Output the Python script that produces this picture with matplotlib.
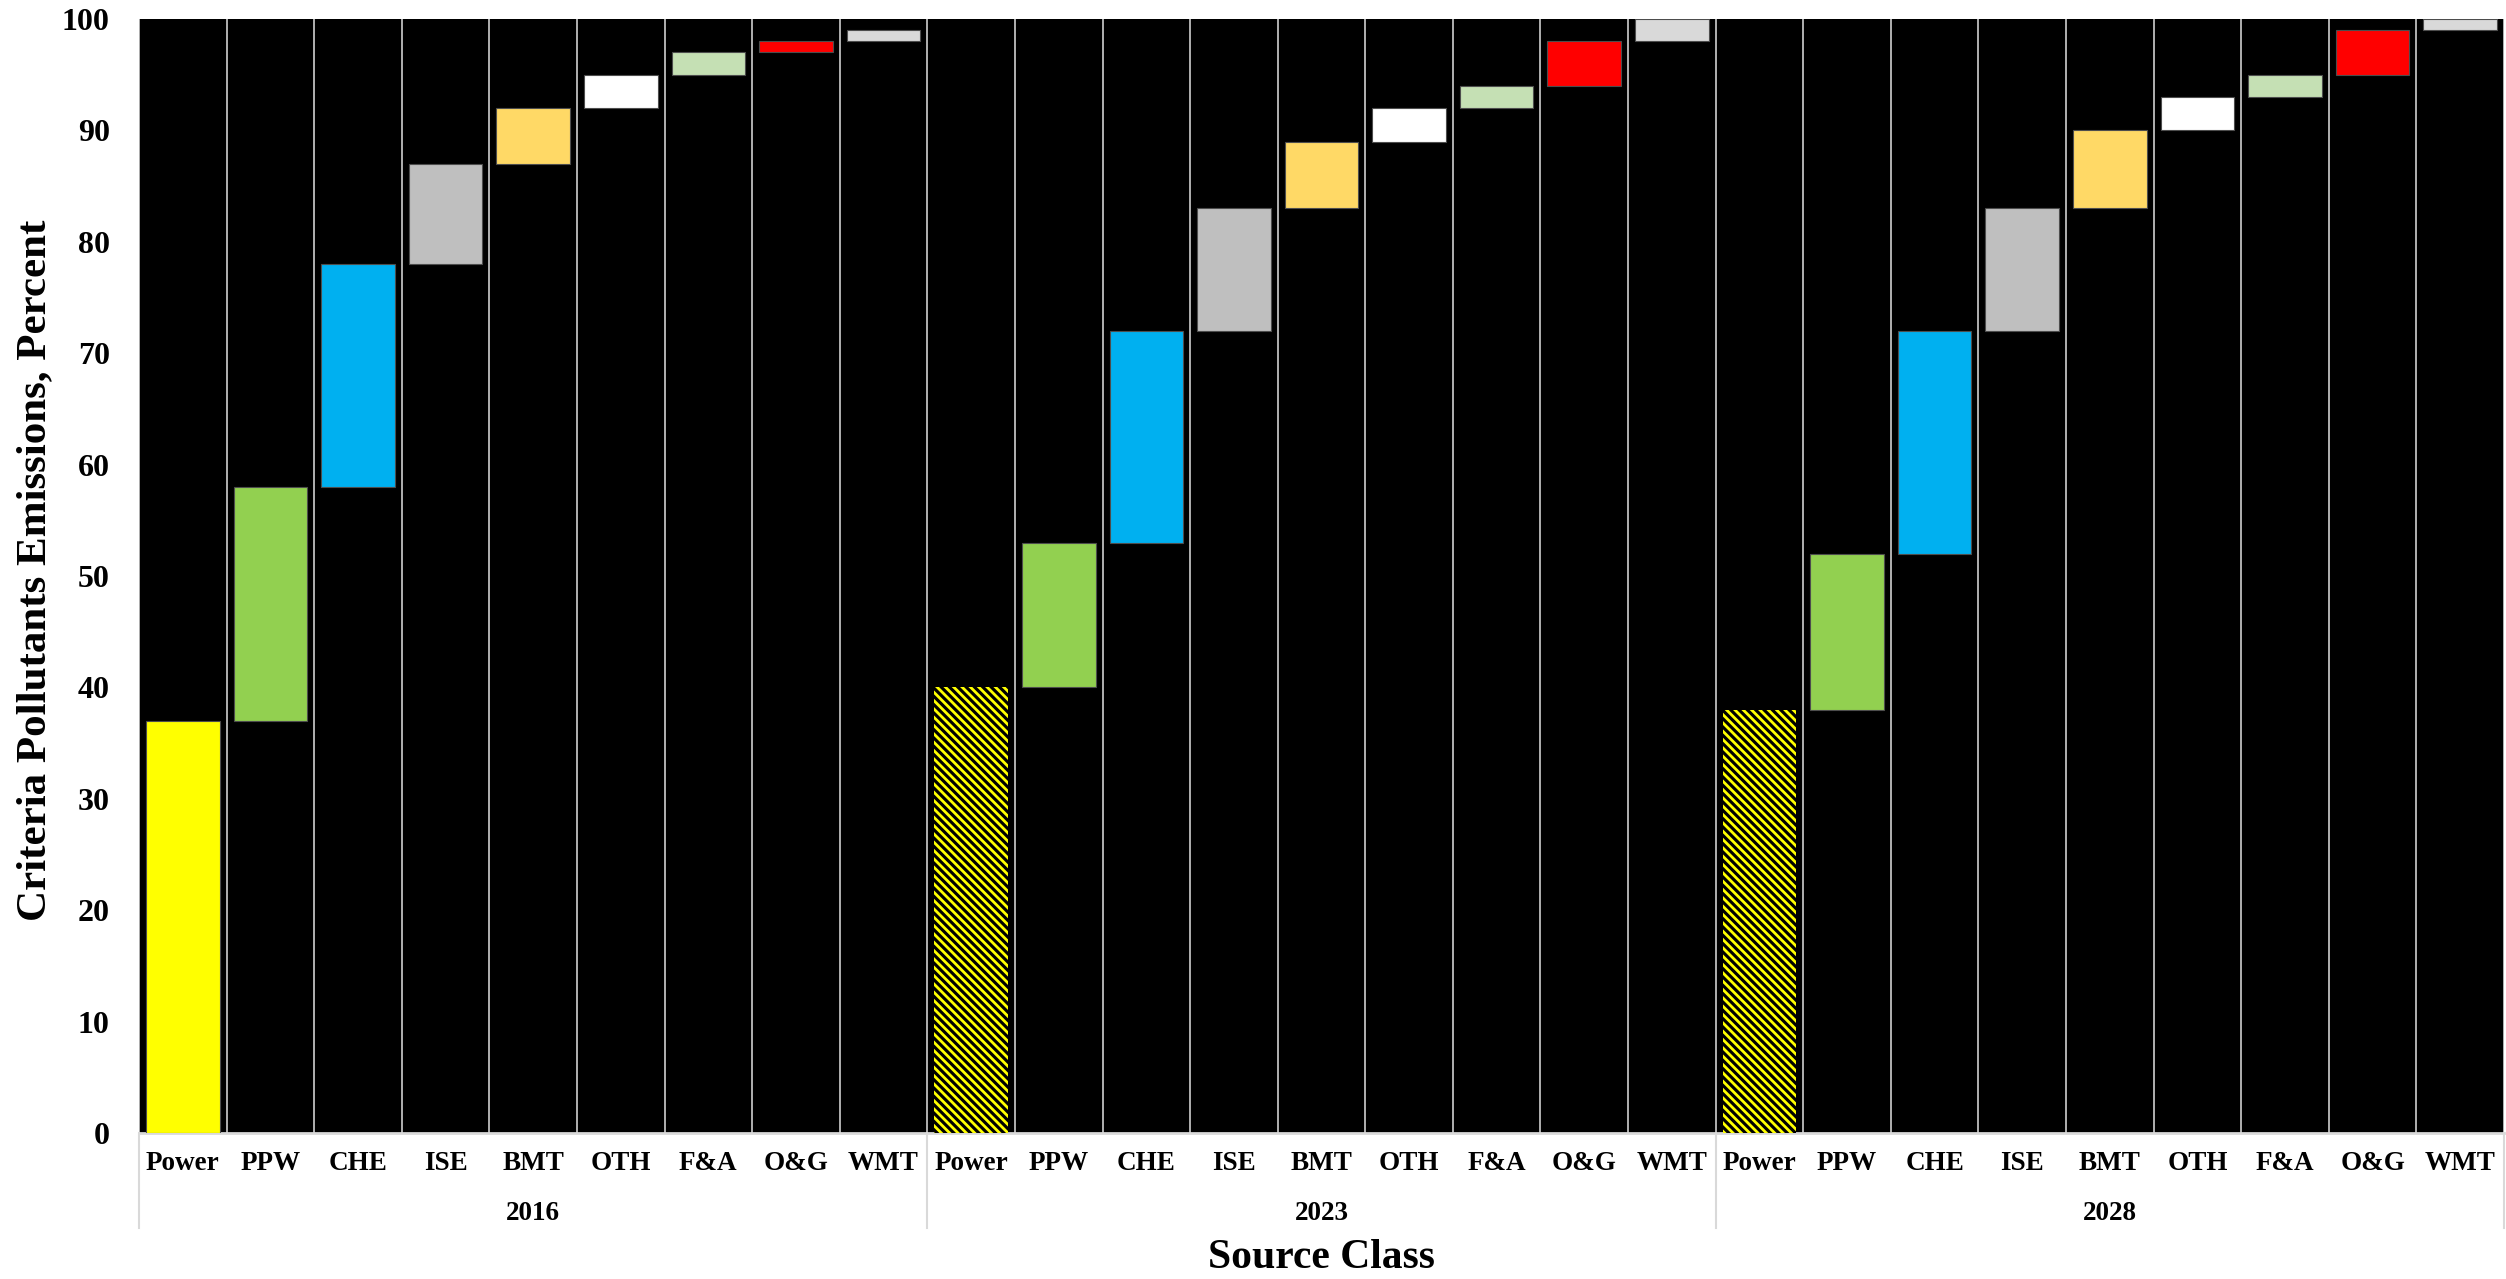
import numpy as np
import matplotlib

matplotlib.use("Agg")
import matplotlib.pyplot as plt
from matplotlib.lines import Line2D

plt.rcParams["font.family"] = ["Liberation Serif", "DejaVu Serif"]
plt.rcParams["font.weight"] = "bold"
plt.rcParams["hatch.linewidth"] = 2.0

sources = ["Power", "PPW", "CHE", "ISE", "BMT", "OTH", "F&A", "O&G", "WMT"]
years = ["2016", "2023", "2028"]

# share of criteria pollutant emissions per source class, percent
share_2016 = [37, 21, 20, 9, 5, 3, 2, 1, 1]
share_2023 = [40, 13, 19, 11, 6, 3, 2, 4, 2]
share_2028 = [38, 14, 20, 11, 7, 3, 2, 4, 1]

colors = ["#FFFF00", "#92D050", "#00B0F0", "#BFBFBF", "#FFD966",
          "#FFFFFF", "#C5E0B4", "#FF0000", "#D9D9D9"]

fig = plt.figure(figsize=(25.06, 12.79), dpi=100)
ax = fig.add_axes([139 / 2506, 1 - 1133 / 1279, (2504 - 139) / 2506, (1133 - 19) / 1279])
ax.set_facecolor("black")

n_src = len(sources)
for g, shares in enumerate([share_2016, share_2023, share_2028]):
    shares = np.array(shares)
    bottoms = np.concatenate([[0], np.cumsum(shares)[:-1]])
    x = np.arange(n_src) + g * n_src
    for i in range(n_src):
        if i == 0 and g > 0:
            # projected years: hatched power bar
            ax.bar(x[i], shares[i], bottom=bottoms[i], width=0.84,
                   color="black", edgecolor="#FFFF00", hatch="\\\\\\\\",
                   linewidth=0, zorder=3)
        else:
            ax.bar(x[i], shares[i], bottom=bottoms[i], width=0.84,
                   color=colors[i], edgecolor="#4d4d4d", linewidth=0.8,
                   zorder=3)

n_all = n_src * len(years)
ax.vlines(np.arange(n_all + 1) - 0.5, 0, 100, color="#BFBFBF", lw=1.3, zorder=2)

ax.set_xlim(-0.5, n_all - 0.5)
ax.set_ylim(0, 100)
ax.set_yticks(np.arange(0, 101, 10))
ax.tick_params(axis="y", length=0, pad=21, labelsize=23)
ax.set_xticks([])
for side in ["top", "right", "left"]:
    ax.spines[side].set_visible(False)
ax.spines["bottom"].set_color("#D9D9D9")
ax.spines["bottom"].set_linewidth(2)

ax_h = 1133 - 19
trans = ax.get_xaxis_transform()
for g, year in enumerate(years):
    for i, src in enumerate(sources):
        ax.text(g * n_src + i, -30 / ax_h, src, transform=trans,
                ha="center", va="center", fontsize=19.5, fontweight="bold")
    ax.text(g * n_src + (n_src - 1) / 2, -80 / ax_h, year, transform=trans,
            ha="center", va="center", fontsize=19.5, fontweight="bold")

for xb in np.arange(0, n_all + 1, n_src) - 0.5:
    ax.add_line(Line2D([xb, xb], [0, -95 / ax_h], transform=trans,
                       color="#D9D9D9", lw=1.5, clip_on=False))

fig.text((139 + 2504) / 2 / 2506, 1 - 1258 / 1279, "Source Class",
         ha="center", va="center", fontsize=30, fontweight="bold")
fig.text(35 / 2506, 1 - 570 / 1279, "Criteria Pollutants Emissions, Percent",
         ha="center", va="center", rotation=90, fontsize=31, fontweight="bold")

fig.savefig("out.png", dpi=100)
